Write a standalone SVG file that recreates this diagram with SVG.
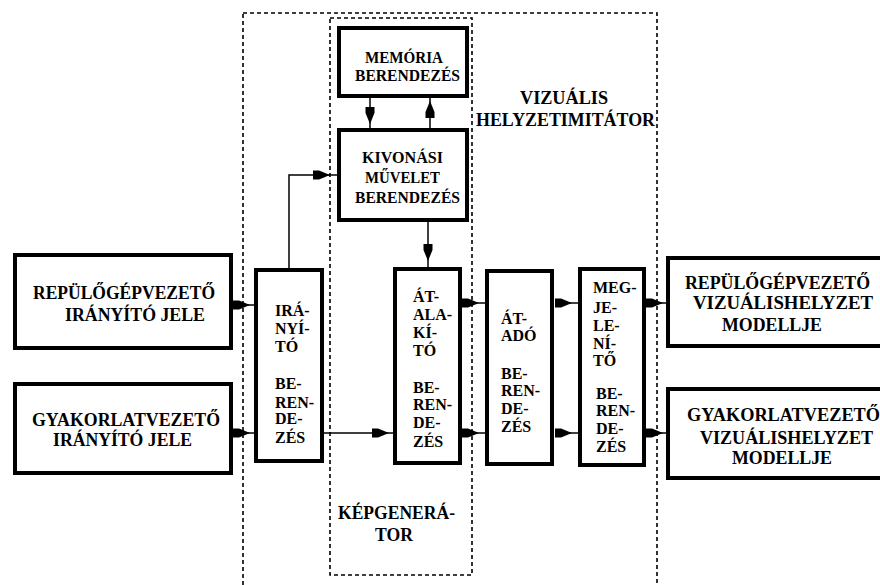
<svg xmlns="http://www.w3.org/2000/svg" width="880" height="585" viewBox="0 0 880 585">
<style>
.box{fill:#fff;stroke:#000;stroke-width:4}
.dash{fill:none;stroke:#000;stroke-width:1.6;stroke-dasharray:4 3}
.con{fill:none;stroke:#000;stroke-width:1.5}
text{font-family:"Liberation Serif","Times New Roman",serif;font-weight:bold;fill:#000}
.big{font-size:18px}
.mid{font-size:17px}
.v{font-size:16px}
</style>
<defs>
<marker id="wedge" markerUnits="userSpaceOnUse" markerWidth="20" markerHeight="12" viewBox="0 -6 20 12" refX="0" refY="0" orient="auto">
<path d="M0,-4.5 L6,-4.5 L17,0 L6,4.5 L0,4.5 Z" fill="#000"/>
</marker>
</defs>
<rect width="880" height="585" fill="#fff"/>
<g id="frames">
<rect class="dash" x="243" y="13" width="414" height="600"/>
<rect class="dash" x="330" y="18" width="142" height="557"/>
</g>
<g id="memoria">
<rect class="box" x="339" y="28" width="128" height="68"/>
<text class="mid" x="365" y="63" textLength="78" lengthAdjust="spacingAndGlyphs">MEMÓRIA</text>
<text class="mid" x="355" y="81" textLength="105" lengthAdjust="spacingAndGlyphs">BERENDEZÉS</text>
</g>
<g id="kivonasi">
<rect class="box" x="339" y="130" width="128" height="90"/>
<text class="mid" x="362" y="163" textLength="81" lengthAdjust="spacingAndGlyphs">KIVONÁSI</text>
<text class="mid" x="365" y="183" textLength="75" lengthAdjust="spacingAndGlyphs">MŰVELET</text>
<text class="mid" x="355" y="203" textLength="105" lengthAdjust="spacingAndGlyphs">BERENDEZÉS</text>
</g>
<g id="pilot-in">
<rect class="box" x="15" y="255" width="216" height="93"/>
<text class="big" x="33" y="299" textLength="182" lengthAdjust="spacingAndGlyphs">REPÜLŐGÉPVEZETŐ</text>
<text class="big" x="65" y="321" textLength="140" lengthAdjust="spacingAndGlyphs">IRÁNYÍTÓ JELE</text>
</g>
<g id="trainer-in">
<rect class="box" x="15" y="384" width="216" height="89"/>
<text class="big" x="32" y="426" textLength="188" lengthAdjust="spacingAndGlyphs">GYAKORLATVEZETŐ</text>
<text class="big" x="53" y="446" textLength="139" lengthAdjust="spacingAndGlyphs">IRÁNYÍTÓ JELE</text>
</g>
<g id="iranyito">
<rect class="box" x="256" y="270" width="66" height="191"/>
<text class="v" x="275" y="316">IRÁ-</text>
<text class="v" x="275" y="334">NYÍ-</text>
<text class="v" x="275" y="352">TÓ</text>
<text class="v" x="275" y="389">BE-</text>
<text class="v" x="275" y="408">REN-</text>
<text class="v" x="275" y="424">DE-</text>
<text class="v" x="275" y="443">ZÉS</text>
</g>
<g id="atalakito">
<rect class="box" x="395" y="269" width="65" height="194"/>
<text class="v" x="413" y="302">ÁT-</text>
<text class="v" x="413" y="320">ALA-</text>
<text class="v" x="413" y="338">KÍ-</text>
<text class="v" x="413" y="356">TÓ</text>
<text class="v" x="413" y="393">BE-</text>
<text class="v" x="413" y="410">REN-</text>
<text class="v" x="413" y="428">DE-</text>
<text class="v" x="413" y="447">ZÉS</text>
</g>
<g id="atado">
<rect class="box" x="487" y="271" width="65" height="193"/>
<text class="v" x="501" y="324">ÁT-</text>
<text class="v" x="501" y="341">ADÓ</text>
<text class="v" x="501" y="379">BE-</text>
<text class="v" x="501" y="396">REN-</text>
<text class="v" x="501" y="414">DE-</text>
<text class="v" x="501" y="432">ZÉS</text>
</g>
<g id="megjelenito">
<rect class="box" x="580" y="269" width="64" height="196"/>
<text class="v" x="593" y="293">MEG-</text>
<text class="v" x="593" y="313">JE-</text>
<text class="v" x="593" y="331">LE-</text>
<text class="v" x="593" y="349">NÍ-</text>
<text class="v" x="593" y="366">TŐ</text>
<text class="v" x="596" y="399">BE-</text>
<text class="v" x="596" y="416">REN-</text>
<text class="v" x="596" y="434">DE-</text>
<text class="v" x="596" y="452">ZÉS</text>
</g>
<g id="pilot-out">
<rect class="box" x="668" y="258" width="240" height="88"/>
<text class="big" x="685" y="289" textLength="185" lengthAdjust="spacingAndGlyphs">REPÜLŐGÉPVEZETŐ</text>
<text class="big" x="693" y="309" textLength="180" lengthAdjust="spacingAndGlyphs">VIZUÁLISHELYZET</text>
<text class="big" x="722" y="331" textLength="100" lengthAdjust="spacingAndGlyphs">MODELLJE</text>
</g>
<g id="trainer-out">
<rect class="box" x="668" y="389" width="240" height="89"/>
<text class="big" x="687" y="421" textLength="193" lengthAdjust="spacingAndGlyphs">GYAKORLATVEZETŐ</text>
<text class="big" x="700" y="444" textLength="173" lengthAdjust="spacingAndGlyphs">VIZUÁLISHELYZET</text>
<text class="big" x="732" y="464" textLength="100" lengthAdjust="spacingAndGlyphs">MODELLJE</text>
</g>
<g id="labels">
<text class="big" x="520" y="104" textLength="88" lengthAdjust="spacingAndGlyphs">VIZUÁLIS</text>
<text class="big" x="476" y="126" textLength="179" lengthAdjust="spacingAndGlyphs">HELYZETIMITÁTOR</text>
<text class="big" x="338" y="519" textLength="117" lengthAdjust="spacingAndGlyphs">KÉPGENERÁ-</text>
<text class="big" x="375" y="541" textLength="38" lengthAdjust="spacingAndGlyphs">TOR</text>
</g>
<g id="connectors">
<path class="con" d="M370,98 V107 V128" marker-mid="url(#wedge)"/>
<path class="con" d="M430,128 V118 V98" marker-mid="url(#wedge)"/>
<path class="con" d="M428,222 V244 V267" marker-mid="url(#wedge)"/>
<path class="con" d="M289,268 V175 H313"/>
<path class="con" d="M313,175 H337" marker-start="url(#wedge)"/>
<path class="con" d="M233,305 H254" marker-start="url(#wedge)"/>
<path class="con" d="M233,433 H254" marker-start="url(#wedge)"/>
<path class="con" d="M324,433 H372 H393" marker-mid="url(#wedge)"/>
<path class="con" d="M462,303 H485" marker-start="url(#wedge)"/>
<path class="con" d="M462,433 H485" marker-start="url(#wedge)"/>
<path class="con" d="M555,303 H578" marker-start="url(#wedge)"/>
<path class="con" d="M555,433 H578" marker-start="url(#wedge)"/>
<path class="con" d="M646,303 H666" marker-start="url(#wedge)"/>
<path class="con" d="M646,433 H666" marker-start="url(#wedge)"/>
</g>
</svg>
